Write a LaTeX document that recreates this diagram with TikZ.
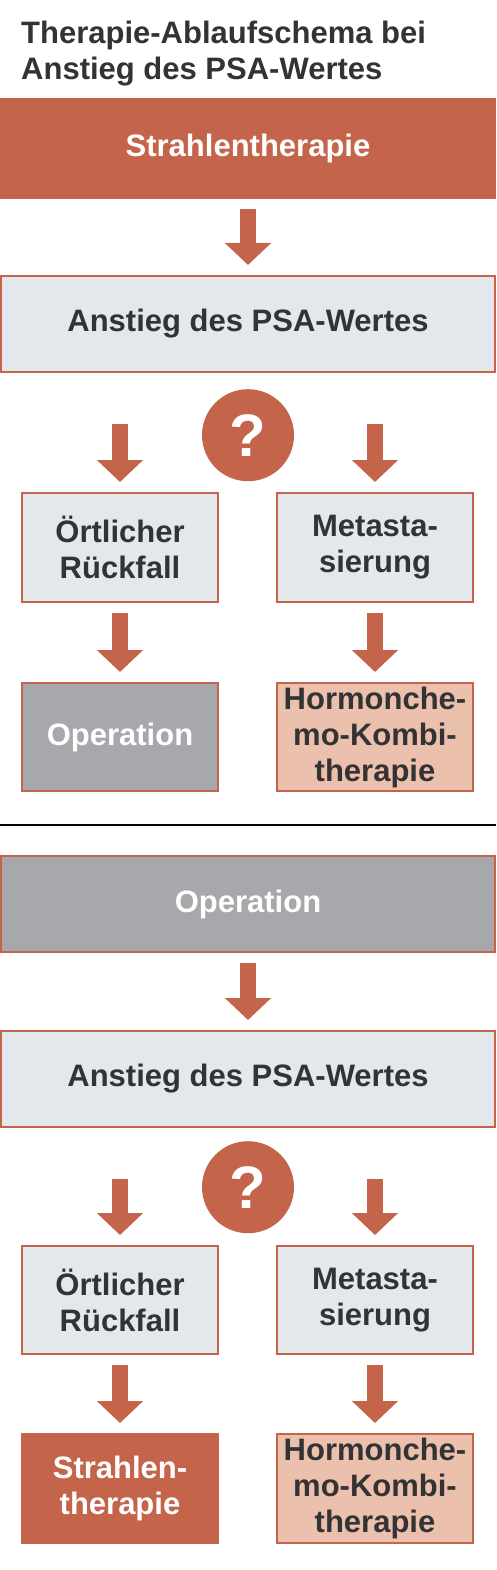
\documentclass[tikz,border=0pt]{standalone}
\usepackage{fontspec}
\setmainfont{Liberation Sans}
\usetikzlibrary{arrows.meta,positioning}
\definecolor{psaorange}{HTML}{C4644A}
\definecolor{psablue}{HTML}{E3E8EC}
\definecolor{psagray}{HTML}{A7A8AB}
\definecolor{psapeach}{HTML}{EBC0AD}
\definecolor{psatext}{HTML}{333333}
\tikzset{
  psa/box/.style={draw=psaorange, line width=2pt, outer sep=0pt, inner sep=0pt, align=center, text=psatext, font=\bfseries\fontsize{31}{36}\selectfont},
  psa/wide/.style={psa/box, minimum width=494pt, minimum height=96pt},
  psa/half/.style={psa/box, minimum width=196pt, minimum height=109pt},
  psa/finding/.style={fill=psablue},
  psa/radio/.style={fill=psaorange, text=white},
  psa/surgery/.style={fill=psagray, text=white},
  psa/hormone/.style={fill=psapeach},
  psa/question/.style={circle, fill=psaorange, minimum size=92pt, inner sep=0pt, text=white, font=\bfseries\fontsize{60}{60}\selectfont},
  psa/arrow/.style={draw=psaorange, line width=16pt, -{Triangle[width=45pt,length=22pt]}, shorten <=11pt, shorten >=11pt},
  psa/split/.style={psa/arrow, shorten <=52pt}
}
\begin{document}
\begin{tikzpicture}[x=1pt,y=1pt]
  \useasboundingbox (0,0) rectangle (496,-1570);
  \node[anchor=north west, inner sep=0pt, align=left, text=psatext, font=\bfseries\fontsize{31}{36}\selectfont] (title) at (21,-21)
   {Therapie-Ablaufschema bei\\Anstieg des PSA-Wertes};

  % Strahlentherapie als Ersttherapie
  \node[psa/wide, psa/radio, minimum height=99pt, anchor=north] (rad1) at (248,-99) {Strahlentherapie};
  \node[psa/wide, psa/finding, below=78pt of rad1] (rise1) {Anstieg des PSA-Wertes};
  \node[psa/question, below=17pt of rise1.south] (q1) {?};
  \node[psa/half, psa/finding, below right=121pt and 21pt of rise1.south west] (local1) {Örtlicher\\Rückfall};
  \node[psa/half, psa/finding, below left=121pt and 22pt of rise1.south east] (meta1) {Metasta-\\sierung};
  \node[psa/half, psa/surgery, minimum height=108pt, below=81pt of local1] (op1) {Operation};
  \node[psa/half, psa/hormone, minimum height=108pt, below=81pt of meta1] (hor1) {Hormonche-\\mo-Kombi-\\therapie};

  \draw[line width=1.5pt] (0,-825) -- (496,-825);

  % Operation als Ersttherapie
  \node[psa/wide, psa/surgery, anchor=north] (op2) at (248,-856) {Operation};
  \node[psa/wide, psa/finding, below=79pt of op2] (rise2) {Anstieg des PSA-Wertes};
  \node[psa/question, below=14pt of rise2.south] (q2) {?};
  \node[psa/half, psa/finding, minimum height=108pt, below right=119pt and 21pt of rise2.south west] (local2) {Örtlicher\\Rückfall};
  \node[psa/half, psa/finding, minimum height=108pt, below left=119pt and 22pt of rise2.south east] (meta2) {Metasta-\\sierung};
  \node[psa/half, psa/radio, below=80pt of local2] (rad2) {Strahlen-\\therapie};
  \node[psa/half, psa/hormone, below=80pt of meta2] (hor2) {Hormonche-\\mo-Kombi-\\therapie};

  \foreach \from/\to in {rad1/rise1, local1/op1, meta1/hor1, op2/rise2, local2/rad2, meta2/hor2}
    \draw[psa/arrow] (\from) -- (\to);
  \foreach \from/\to in {rise1/local1, rise1/meta1, rise2/local2, rise2/meta2}
    \draw[psa/split] (\from.south -| \to.north) -- (\to.north);
\end{tikzpicture}
\end{document}
